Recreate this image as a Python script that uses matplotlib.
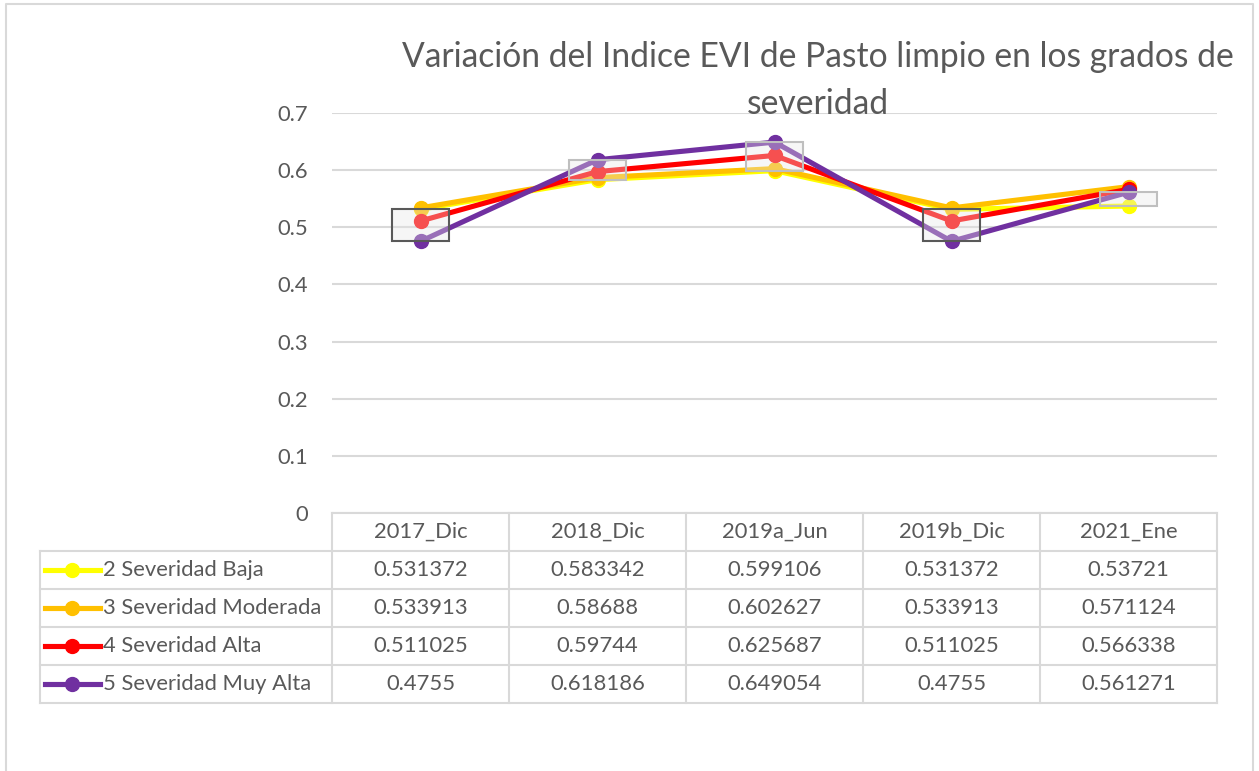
import matplotlib.pyplot as plt
from matplotlib.lines import Line2D

plt.rcParams['font.family'] = ['Lato', 'DejaVu Sans']

categories = ['2017_Dic', '2018_Dic', '2019a_Jun', '2019b_Dic', '2021_Ene']
series_names = ['2 Severidad Baja', '3 Severidad Moderada', '4 Severidad Alta', '5 Severidad Muy Alta']
baja = [0.531372, 0.583342, 0.599106, 0.531372, 0.53721]
moderada = [0.533913, 0.58688, 0.602627, 0.533913, 0.571124]
alta = [0.511025, 0.59744, 0.625687, 0.511025, 0.566338]
muy_alta = [0.4755, 0.618186, 0.649054, 0.4755, 0.561271]
colors = ['#FFFF00', '#FFC000', '#FF0000', '#7030A0']
yticks = [0, 0.1, 0.2, 0.3, 0.4, 0.5, 0.6, 0.7]
title = 'Variación del Indice EVI de Pasto limpio en los grados de\nseveridad'

W, H = 1259, 771
text_color = '#595959'
grid_color = '#d9d9d9'
fs = 15.8

fig = plt.figure(figsize=(W / 100, H / 100), dpi=100)

# plot area in pixels
px_left, px_right, px_top, px_bottom = 332, 1217, 113, 513
ax = fig.add_axes([px_left / W, 1 - px_bottom / H, (px_right - px_left) / W, (px_bottom - px_top) / H])

all_series = [baja, moderada, alta, muy_alta]
x = list(range(len(categories)))
for vals, c in zip(all_series, colors):
    ax.plot(x, vals, color=c, lw=3.7, marker='o', ms=10, zorder=3)

# up/down bars between first and last series
for i in x:
    lo = min(baja[i], muy_alta[i])
    hi = max(baja[i], muy_alta[i])
    edge = '#bfbfbf' if muy_alta[i] > baja[i] else '#595959'
    ax.bar(i, hi - lo, bottom=lo, width=0.32, facecolor='#e6e6e6', alpha=0.35,
           edgecolor='none', zorder=4)
    ax.bar(i, hi - lo, bottom=lo, width=0.32, facecolor='none',
           edgecolor=edge, lw=1.5, zorder=5)

ax.set_xlim(-0.5, len(categories) - 0.5)
ax.set_ylim(0, 0.7)
ax.set_yticks(yticks)
ax.set_yticklabels([f'{v:g}' for v in yticks], fontsize=fs, color=text_color)
ax.set_xticks([])
ax.tick_params(axis='y', length=0, pad=17)
ax.grid(axis='y', color=grid_color, lw=1.5)
ax.set_axisbelow(True)
for s in ax.spines.values():
    s.set_visible(False)
ax.set_facecolor('none')

# overlay in pixel coordinates for the data table and chart border
ov = fig.add_axes([0, 0, 1, 1], zorder=-1)
ov.set_xlim(0, W)
ov.set_ylim(H, 0)
ov.axis('off')

ov.plot([6, 6, 1253, 1253], [H + 5, 4, 4, H + 5], color=grid_color, lw=1.5)

row_h = 38
col_w = (px_right - px_left) / len(categories)
leg_left = 40
n_rows = len(series_names)
table_bottom = px_bottom + row_h * (n_rows + 1)

# horizontal lines
ov.plot([px_left, px_right], [px_bottom, px_bottom], color=grid_color, lw=1.5)
for r in range(1, n_rows + 2):
    y = px_bottom + r * row_h
    ov.plot([leg_left, px_right], [y, y], color=grid_color, lw=1.5)
# vertical lines
ov.plot([leg_left, leg_left], [px_bottom + row_h, table_bottom], color=grid_color, lw=1.5)
for j in range(len(categories) + 1):
    xv = px_left + j * col_w
    ov.plot([xv, xv], [px_bottom, table_bottom], color=grid_color, lw=1.5)

for j, cat in enumerate(categories):
    ov.text(px_left + (j + 0.5) * col_w, px_bottom + row_h / 2, cat, ha='center', va='center',
            fontsize=fs, color=text_color)

for r, (name, vals, c) in enumerate(zip(series_names, all_series, colors)):
    yc = px_bottom + (r + 1.5) * row_h
    ov.add_line(Line2D([45, 100], [yc, yc], color=c, lw=3.7))
    ov.plot([72], [yc], marker='o', ms=10, color=c)
    ov.text(103, yc, name, ha='left', va='center', fontsize=fs, color=text_color)
    for j, v in enumerate(vals):
        ov.text(px_left + (j + 0.5) * col_w, yc, f'{v:g}', ha='center', va='center',
                fontsize=fs, color=text_color)

fig.text(818 / W, 1 - 80.5 / H, title, ha='center', va='center', fontsize=24.2,
         color=text_color, linespacing=1.55)

fig.savefig('out.png', dpi=100)
